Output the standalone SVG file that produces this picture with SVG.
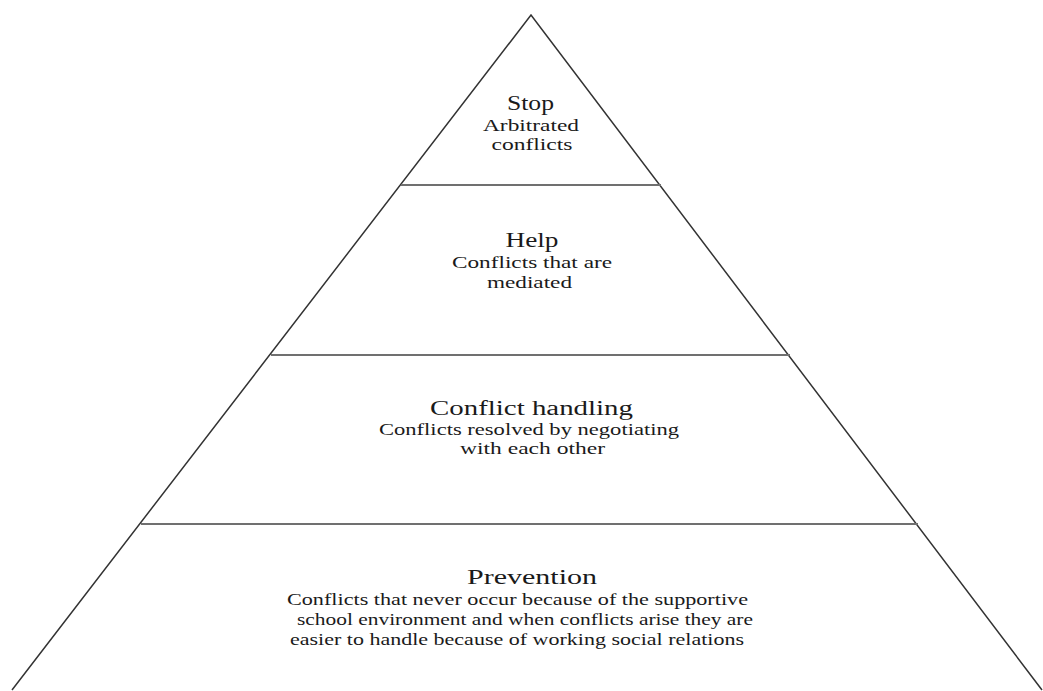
<svg xmlns="http://www.w3.org/2000/svg" width="1043" height="691" viewBox="0 0 1043 691">
<style>
.edge{stroke:#333;stroke-width:1.5;fill:none}
.div{stroke:#707070;stroke-width:2;fill:none}
text{font-family:"Liberation Serif","Times New Roman",serif;fill:#1a1a1a;text-anchor:middle}
.t{font-size:20px}
.s{font-size:17px}
</style>
<rect width="1043" height="691" fill="#fff"/>
<g id="connectors">
<path class="edge" d="M12 690 L531 15 L1042 690"/>
<line class="div" x1="401" y1="185" x2="661" y2="185"/>
<line class="div" x1="271" y1="355" x2="790" y2="355"/>
<line class="div" x1="141" y1="524" x2="918" y2="524"/>
</g>
<g id="stop">
<text class="t" x="530.5" y="110" textLength="47" lengthAdjust="spacingAndGlyphs">Stop</text>
<text class="s" x="531" y="131" textLength="96" lengthAdjust="spacingAndGlyphs">Arbitrated</text>
<text class="s" x="532" y="150" textLength="81" lengthAdjust="spacingAndGlyphs">conflicts</text>
</g>
<g id="help">
<text class="t" x="532" y="247" textLength="53" lengthAdjust="spacingAndGlyphs">Help</text>
<text class="s" x="532" y="268" textLength="160" lengthAdjust="spacingAndGlyphs">Conflicts that are</text>
<text class="s" x="529.5" y="288" textLength="85" lengthAdjust="spacingAndGlyphs">mediated</text>
</g>
<g id="conflict-handling">
<text class="t" x="531.5" y="415" textLength="203" lengthAdjust="spacingAndGlyphs">Conflict handling</text>
<text class="s" x="529" y="435" textLength="300" lengthAdjust="spacingAndGlyphs">Conflicts resolved by negotiating</text>
<text class="s" x="532.5" y="454" textLength="145" lengthAdjust="spacingAndGlyphs">with each other</text>
</g>
<g id="prevention">
<text class="t" x="532" y="584" textLength="130" lengthAdjust="spacingAndGlyphs">Prevention</text>
<text class="s" x="517.5" y="605" textLength="461" lengthAdjust="spacingAndGlyphs">Conflicts that never occur because of the supportive</text>
<text class="s" x="525" y="625" textLength="456" lengthAdjust="spacingAndGlyphs">school environment and when conflicts arise they are</text>
<text class="s" x="517" y="645" textLength="454" lengthAdjust="spacingAndGlyphs">easier to handle because of working social relations</text>
</g>
</svg>
